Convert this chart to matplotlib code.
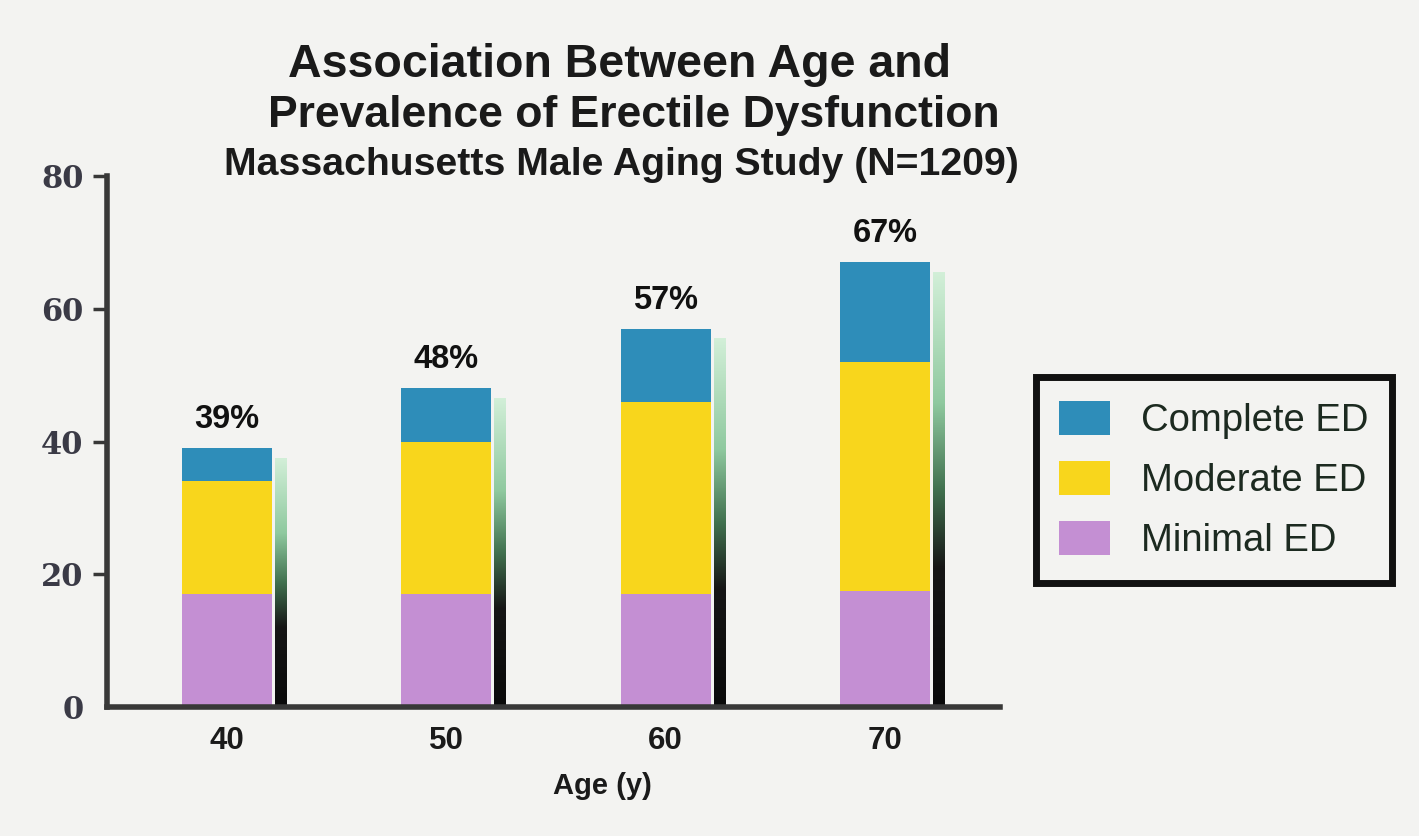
import matplotlib.pyplot as plt
import numpy as np
from matplotlib.colors import LinearSegmentedColormap

plt.rcParams['font.family'] = 'Liberation Sans'

# prevalence (%) by age group, stacked by severity
ages = [40, 50, 60, 70]
minimal = [17, 17, 17, 17.5]
moderate = [17, 23, 29, 34.5]
complete = [5, 8, 11, 15]

bg = '#f3f3f1'
W, H = 1419, 836

fig = plt.figure(figsize=(W / 100, H / 100), dpi=100, facecolor=bg)
ax = fig.add_axes([107 / W, 1 - 707 / H, (1000 - 107) / W, (707 - 176) / H])
ax.set_facecolor(bg)

bar_w = 4.1
lower = np.array(minimal)
middle = lower + np.array(moderate)
totals = middle + np.array(complete)

b_min = ax.bar(ages, minimal, bar_w, color='#c48fd3', zorder=3)
b_mod = ax.bar(ages, moderate, bar_w, bottom=lower, color='#f8d61c', zorder=3)
b_com = ax.bar(ages, complete, bar_w, bottom=middle, color='#2e8db9', zorder=3)

# drop shadow strip on the right of each bar, mint at the top fading to black
shade = LinearSegmentedColormap.from_list(
    'shade', [(0, '#d2efd8'), (0.3, '#8fc99f'), (0.5, '#41714f'),
              (0.68, '#161616'), (1, '#0a0a0a')])
grad = np.linspace(0, 1, 256).reshape(-1, 1)
for a, t in zip(ages, totals):
    x0 = a + bar_w / 2 + 0.14
    ax.imshow(grad, extent=[x0, x0 + 0.54, 0, t - 1.5], aspect='auto',
              cmap=shade, zorder=2)

for a, t in zip(ages, totals):
    ax.annotate(f'{t:.0f}%', (a, t), xytext=(0, 20), textcoords='offset pixels',
                ha='center', va='baseline', fontsize=23.5, fontweight='bold',
                color='#111111')

ax.set_xlim(34.53, 75.25)
ax.set_ylim(0, 80)

for s in ['top', 'right']:
    ax.spines[s].set_visible(False)
for s in ['left', 'bottom']:
    ax.spines[s].set_color('#383838')
    ax.spines[s].set_linewidth(4)
    ax.spines[s].set_zorder(4)

ax.set_yticks([0, 20, 40, 60, 80])
ax.tick_params(axis='y', direction='out', length=10, width=2.5, color='#383838', pad=7)
ax.yaxis.get_major_ticks()[0].tick1line.set_visible(False)
for lab in ax.get_yticklabels():
    lab.set_fontfamily('DejaVu Serif')
    lab.set_fontweight('bold')
    lab.set_fontsize(22)
    lab.set_color('#3a3a46')

ax.set_xticks(ages)
ax.tick_params(axis='x', length=0, pad=14)
for lab in ax.get_xticklabels():
    lab.set_fontweight('bold')
    lab.set_fontsize(22.5)
    lab.set_color('#1a1a1a')

fig.text(602 / W, 1 - 794 / H, 'Age (y)', ha='center', va='baseline',
         fontsize=21, fontweight='bold', color='#1a1a1a')

fig.text(619 / W, 1 - 77 / H, 'Association Between Age and', ha='center',
         va='baseline', fontsize=33.5, fontweight='bold', color='#1a1a1a')
fig.text(634 / W, 1 - 127 / H, 'Prevalence of Erectile Dysfunction', ha='center',
         va='baseline', fontsize=32, fontweight='bold', color='#1a1a1a')
fig.text(621 / W, 1 - 175 / H, 'Massachusetts Male Aging Study (N=1209)', ha='center',
         va='baseline', fontsize=28.3, fontweight='bold', color='#1a1a1a')

leg = ax.legend([b_com, b_mod, b_min], ['Complete ED', 'Moderate ED', 'Minimal ED'],
                loc='upper left', bbox_to_anchor=(1035.5 / W, 1 - 377.5 / H),
                bbox_transform=fig.transFigure, borderaxespad=0, fontsize=27.5,
                handlelength=1.33, handleheight=1.0, handletextpad=0.82,
                labelspacing=0.57, borderpad=0.62, fancybox=False,
                facecolor=bg, framealpha=1, edgecolor='#111111')
leg.get_frame().set_linewidth(5)
for t in leg.get_texts():
    t.set_color('#1c2a20')

fig.savefig('out.png', dpi=100, facecolor=bg)
